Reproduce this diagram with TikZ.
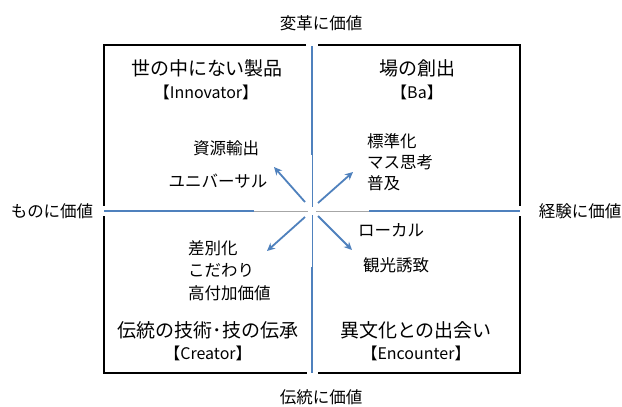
\documentclass[tikz,border=0pt]{standalone}
\usepackage{fontspec}
\setmainfont{Noto Sans CJK JP}
\usetikzlibrary{arrows.meta}
\definecolor{axblue}{HTML}{4F81BD}
\definecolor{axgray}{HTML}{A6A6A6}
\begin{document}
\begin{tikzpicture}[x=1pt,y=-1pt,
  axisthick/.style={draw=axblue, line width=2.4pt},
  axisthin/.style={draw=axgray, line width=1pt},
  vthin/.style={draw=axblue, line width=0.9pt},
  frame/.style={draw=black, line width=1.8pt, line join=miter},
  arr/.style={draw=axblue, line width=1.8pt, -{Stealth[length=8pt,width=7.5pt]}},
  small/.style={font=\fontsize{16.5}{21}\selectfont, inner sep=0pt},
  title/.style={font=\fontsize{19}{22}\selectfont, inner sep=0pt},
  tag/.style={font=\fontsize{16}{18}\selectfont, inner sep=0pt},
  axlabel/.style={font=\fontsize{16.5}{20}\selectfont, inner sep=0pt},
]
\useasboundingbox[fill=white] (0,0) rectangle (622,407);

% frame
\draw[frame] (306,45) -- (104,45) -- (104,206);
\draw[frame] (104,216) -- (104,373) -- (307,373);
\draw[frame] (318,45) -- (520,45) -- (520,206);
\draw[frame] (520,216) -- (520,373) -- (318,373);

% axis coordinates
\coordinate (top) at (312,46);
\coordinate (topmid) at (312,155);
\coordinate (cN) at (312,207);
\coordinate (cS) at (312,215);
\coordinate (botmid) at (312,267);
\coordinate (bot) at (312,373);
\coordinate (left) at (104,211);
\coordinate (leftmid) at (254,211);
\coordinate (cW) at (308,211);
\coordinate (cE) at (316,211);
\coordinate (rightmid) at (369,211);
\coordinate (right) at (520,211);

\draw[axisthick] (top) -- (topmid);
\draw[vthin] (topmid) -- (cN);
\draw[vthin] (cS) -- (botmid);
\draw[axisthick] (botmid) -- (bot);
\draw[axisthick] (left) -- (leftmid);
\draw[axisthin] (leftmid) -- (cW);
\draw[axisthin] (cE) -- (rightmid);
\draw[axisthick] (rightmid) -- (right);

% arrows
\coordinate (ulS) at (305,202); \coordinate (ulE) at (274,167);
\coordinate (urS) at (318,203); \coordinate (urE) at (353,172);
\coordinate (llS) at (305,217); \coordinate (llE) at (267,251);
\coordinate (lrS) at (318,216); \coordinate (lrE) at (352,250);
\draw[arr] (ulS) -- (ulE);
\draw[arr] (urS) -- (urE);
\draw[arr] (llS) -- (llE);
\draw[arr] (lrS) -- (lrE);

% axis labels
\node[axlabel] (ltop) at (321,23) {変革に価値};
\node[axlabel] (lbot) at (321,397) {伝統に価値};
\node[axlabel] (lleft) at (52,211) {ものに価値};
\node[axlabel] (lright) at (580,211) {経験に価値};

% quadrant titles
\node[title] (t1) at (207,68) {世の中にない製品};
\node[tag] (g1) at (206,92) {【Innovator】};
\node[title] (t2) at (417,68) {場の創出};
\node[tag] (g2) at (417,92) {【Ba】};
\node[title] (t3) at (208,330) {伝統の技術･技の伝承};
\node[tag] (g3) at (208,353) {【Creator】};
\node[title] (t4) at (416,330) {異文化との出会い};
\node[tag] (g4) at (416,353) {【Encounter】};

% inner texts
\node[small] (a1) at (226,148) {資源輸出};
\node[small] (a2) at (218,181) {ユニバーサル};
\node[small, anchor=north west, align=left] (b1) at (367,133) {標準化\\マス思考\\普及};
\node[small, anchor=west] (b2) at (358,230) {ローカル};
\node[small, anchor=west] (b3) at (363,265) {観光誘致};
\node[small, anchor=north west, align=left, font=\fontsize{16.5}{22.5}\selectfont] (c1) at (188,240) {差別化\\こだわり\\高付加価値};
\end{tikzpicture}
\end{document}
